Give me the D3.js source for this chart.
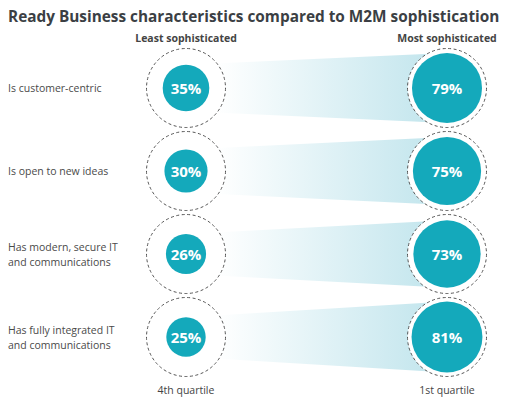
<!DOCTYPE html>
<html>
<head>
<meta charset="utf-8">
<script src="https://cdn.jsdelivr.net/npm/d3@7"></script>
<style>
  body { margin: 0; background: #fff; }
  svg { display: block; font-family: "Open Sans", sans-serif; }
</style>
</head>
<body>
<div id="chart"></div>
<script>
const categories = [
  ["Is customer-centric"],
  ["Is open to new ideas"],
  ["Has modern, secure IT", "and communications"],
  ["Has fully integrated IT", "and communications"]
];
const leastValues = [35, 30, 26, 25];
const mostValues = [79, 75, 73, 81];
const groups = ["Least sophisticated", "Most sophisticated"];
const quartiles = ["4th quartile", "1st quartile"];

const width = 505, height = 403;
const teal = "#14a9bb";

const svg = d3.select("#chart").append("svg")
  .attr("width", width)
  .attr("height", height);

const x = d3.scalePoint().domain(groups).range([186, 447]);
const y = d3.scalePoint().domain(d3.range(categories.length)).range([88, 337]);
const r = d3.scaleSqrt().domain([0, 100]).range([0, 39.4]);
const ringR = 39.5;

const grad = svg.append("defs").append("linearGradient")
  .attr("id", "band")
  .attr("gradientUnits", "userSpaceOnUse")
  .attr("x1", x(groups[0]) + 30).attr("x2", x(groups[1]))
  .attr("y1", 0).attr("y2", 0);
grad.append("stop").attr("offset", 0).attr("stop-color", "#ffffff");
grad.append("stop").attr("offset", 1).attr("stop-color", "#bfe4ec");

// title
const title = svg.append("text")
  .attr("x", 8).attr("y", 22)
  .attr("font-size", 17)
  .attr("font-weight", 700)
  .attr("fill", "#3b3f44")
  .text("Ready Business characteristics compared to M2M sophistication");
const tw = title.node().getComputedTextLength();
title.attr("font-size", 17 * 492 / tw);

// column headers
svg.selectAll(".head").data(groups).enter().append("text")
  .attr("x", d => x(d)).attr("y", 42)
  .attr("text-anchor", "middle")
  .attr("font-size", 10.5)
  .attr("font-weight", 700)
  .attr("fill", "#444")
  .text(d => d);

svg.selectAll(".quart").data(quartiles).enter().append("text")
  .attr("x", (d, i) => x(groups[i])).attr("y", 394)
  .attr("text-anchor", "middle")
  .attr("font-size", 10.5)
  .attr("fill", "#444")
  .text(d => d);

const rows = svg.selectAll(".row").data(categories).enter().append("g")
  .attr("transform", (d, i) => `translate(0,${y(i)})`);

// bands
rows.append("path")
  .attr("fill", "url(#band)")
  .attr("d", (d, i) => {
    const x0 = x(groups[0]), x1 = x(groups[1]);
    const r0 = r(leastValues[i]), r1 = r(mostValues[i]);
    return `M${x0},${-r0}L${x1},${-r1}L${x1},${r1}L${x0},${r0}Z`;
  });

// row labels
rows.append("text")
  .attr("x", 8)
  .attr("font-size", 10.5)
  .attr("fill", "#4a4a4a")
  .each(function(d) {
    const t = d3.select(this);
    const off = (d.length - 1) * 7.5;
    d.forEach((line, k) => {
      t.append("tspan").attr("x", 8).attr("y", -off + k * 15 + 4).text(line);
    });
  });

// circles
groups.forEach((g, gi) => {
  const vals = gi === 0 ? leastValues : mostValues;
  rows.append("circle")
    .attr("cx", x(g)).attr("r", ringR)
    .attr("fill", "#fff")
    .attr("stroke", "#555")
    .attr("stroke-width", 1)
    .attr("stroke-dasharray", "3,2.5");
  rows.append("circle")
    .attr("cx", x(g)).attr("r", (d, i) => r(vals[i]))
    .attr("fill", teal);
  rows.append("text")
    .attr("x", x(g)).attr("y", 5.5)
    .attr("text-anchor", "middle")
    .attr("font-size", 15)
    .attr("font-weight", 700)
    .attr("fill", "#fff")
    .text((d, i) => vals[i] + "%");
});
</script>
</body>
</html>
